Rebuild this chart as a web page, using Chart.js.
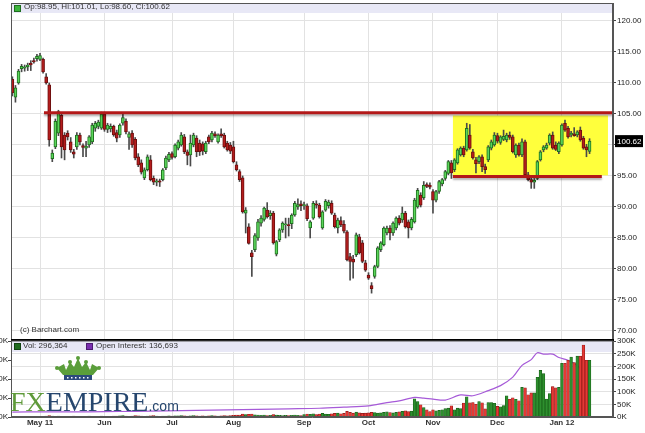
<!DOCTYPE html>
<html>
<head>
<meta charset="utf-8">
<script src="https://cdn.jsdelivr.net/npm/chart.js@4.4.1/dist/chart.umd.min.js"></script>
<style>
	html, body { margin: 0; padding: 0; background: #fff; }
	#wrap { position: relative; width: 645px; height: 433px; overflow: hidden; font-family: "Liberation Sans", Arial, sans-serif; }
	canvas { position: absolute; left: 0; }
	#priceCanvas { top: 0; }
	#volumeCanvas { top: 331px; }
	.txt { position: absolute; white-space: nowrap; color: #333; font-size: 8px; line-height: 10px; }
	.sq { position: absolute; width: 5px; height: 5px; }
	#logo { position: absolute; left: 10px; top: 388px; font-family: "Liberation Serif", "Times New Roman", serif; font-size: 28px; line-height: 28px; white-space: nowrap; }
</style>
</head>
<body>
<div id="wrap">
	<canvas id="priceCanvas" width="645" height="341"></canvas>
	<canvas id="volumeCanvas" width="645" height="102"></canvas>

	<div class="sq" style="left:14px; top:5px; background:#3cb43c; border:1px solid #1e6e1e;"></div>
	<div class="txt" style="left:24px; top:2px;">Op:98.95, Hi:101.01, Lo:98.60, Cl:100.62</div>
	<div class="txt" style="left:20px; top:325px;">(c) Barchart.com</div>
	<div class="sq" style="left:14px; top:343px; background:#1f6b1f; border:1px solid #124212;"></div>
	<div class="txt" style="left:23px; top:341px;">Vol: 296,364</div>
	<div class="sq" style="left:86px; top:343px; background:#7a2fb0; border:1px solid #4c1a70;"></div>
	<div class="txt" style="left:96px; top:341px;">Open Interest: 136,693</div>

	<div id="logo"><span style="color:#5f9a3a">FX</span><span style="color:#26466e">EMPIRE</span><span style="font-family:'Liberation Sans', Arial, sans-serif; font-size:14px; color:#26466e">.com</span></div>
</div>

<script>

/*
 |
 | Daily candles, 18 Apr 2011 to 17 Jan 2012 (one entry per trading day)
 |
 */
const opens = [
	110.6, 107.7, 110.0, 112.3, 112.4, 112.6, 113.2, 113.6, 113.9,
	113.8, 113.8, 111.0, 109.7, 97.8, 99.7, 101.9, 104.8, 101.6, 101.9, 100.5, 98.9, 99.7, 101.6, 99.9, 99.5, 100.0, 100.5, 102.7, 103.0, 102.7,
	105.0, 102.5, 102.6, 103.0, 102.0, 101.6, 103.5, 103.8, 101.2, 101.9, 100.9, 98.1, 97.1, 94.7, 96.0, 97.6, 94.6, 94.0, 94.2, 94.4, 96.3, 97.6,
	98.6, 98.1, 99.5, 100.0, 101.3, 98.9, 98.4, 100.0, 101.1, 100.3, 100.2, 98.9, 101.3, 100.8, 101.8, 100.5, 101.8, 101.6, 100.3, 100.0,
	99.7, 96.8, 95.7, 94.7, 89.0, 86.8, 82.6, 83.1, 85.0, 87.4, 88.0, 89.5, 88.6, 89.0, 82.4, 84.7, 86.3, 87.1, 87.1, 87.3, 88.7, 90.0, 90.5,
	90.2, 90.2, 86.6, 88.2, 90.5, 90.3, 86.6, 89.5, 90.2, 90.6, 88.7, 86.6, 87.8, 87.2, 86.0, 82.0, 81.6, 82.3, 85.2, 84.2, 81.0,
	79.0, 77.3, 78.8, 80.4, 83.1, 83.9, 85.8, 86.6, 85.8, 86.6, 88.2, 87.9, 89.0, 87.6, 86.6, 87.6, 90.0, 91.9, 91.5, 93.6, 93.5,
	92.5, 91.1, 92.5, 93.7, 94.6, 95.4, 97.1, 96.0, 97.1, 98.4, 99.5, 99.2, 101.6, 98.9, 97.6, 97.3, 98.1, 96.5, 97.6, 99.5, 100.0,
	101.5, 100.4, 100.9, 100.8, 101.6, 101.3, 98.4, 100.0, 98.4, 100.5, 95.2, 94.4, 94.0, 94.6, 97.6, 99.2, 99.5, 100.3, 101.6, 100.0, 98.9,
	100.0, 103.5, 102.7, 101.6, 101.8, 101.6, 102.4, 101.1, 99.7, 98.95
]
const highs = [
	111.0, 109.6, 112.2, 113.0, 112.9, 113.2, 113.6, 114.0, 114.6,
	114.8, 114.0, 111.5, 110.0, 99.2, 104.2, 105.6, 105.2, 102.0, 102.3, 101.2, 99.3, 102.0, 101.9, 100.2, 100.6, 101.5, 103.5, 103.8, 104.0, 105.3,
	105.3, 103.5, 103.4, 103.2, 102.4, 103.4, 105.0, 104.2, 102.1, 102.3, 101.2, 98.6, 97.6, 96.3, 98.4, 98.3, 95.0, 94.5, 94.5, 96.2, 98.2, 98.8,
	98.9, 100.2, 100.8, 102.0, 101.7, 99.2, 101.6, 101.9, 101.5, 100.8, 100.5, 100.6, 101.6, 102.2, 102.1, 101.8, 102.6, 101.9, 100.6, 100.4,
	100.6, 97.3, 96.0, 95.0, 89.9, 87.3, 83.0, 85.7, 88.0, 88.6, 90.0, 90.7, 89.4, 89.3, 84.6, 86.5, 87.6, 88.2, 88.2, 88.9, 90.9, 91.3, 91.0,
	90.8, 90.5, 87.8, 90.9, 91.0, 90.6, 89.4, 91.2, 91.1, 91.0, 89.0, 88.2, 88.4, 87.8, 86.2, 82.5, 82.2, 85.8, 85.6, 84.6, 81.4,
	79.4, 77.8, 80.6, 83.6, 84.4, 86.8, 86.9, 87.0, 87.6, 88.4, 88.6, 90.0, 89.3, 87.9, 88.3, 91.4, 93.0, 92.3, 94.1, 93.9, 93.9,
	92.8, 92.7, 94.3, 94.6, 95.9, 97.5, 97.5, 97.8, 99.4, 99.7, 99.8, 103.5, 103.3, 99.3, 98.0, 98.3, 98.4, 96.9, 99.9, 100.8, 102.0,
	101.9, 101.5, 102.4, 101.9, 102.1, 101.6, 100.2, 100.3, 101.0, 100.8, 95.6, 94.8, 94.6, 97.5, 99.1, 99.9, 100.3, 101.8, 102.1, 100.5, 100.5,
	103.4, 104.0, 103.0, 102.2, 102.8, 102.3, 102.9, 101.4, 100.1, 101.01
]
const lows = [
	107.9, 106.9, 109.8, 111.8, 111.9, 112.0, 112.0, 113.2, 113.5,
	113.6, 111.6, 109.8, 99.8, 97.3, 99.4, 101.5, 97.9, 97.6, 100.8, 98.8, 97.9, 99.3, 100.0, 98.1, 98.1, 99.6, 100.2, 102.2, 102.6, 102.5,
	102.2, 102.0, 102.1, 101.4, 100.5, 101.2, 103.2, 101.8, 99.3, 99.6, 97.6, 96.5, 95.3, 94.4, 95.8, 94.2, 93.6, 93.4, 93.3, 94.2, 96.0, 97.3,
	97.7, 97.9, 99.2, 99.8, 98.6, 96.8, 96.6, 99.7, 98.1, 98.3, 98.4, 98.6, 100.2, 100.5, 101.2, 100.3, 101.2, 99.5, 99.0, 98.6,
	97.1, 95.8, 94.1, 89.0, 85.8, 84.0, 78.8, 82.8, 84.6, 86.9, 87.7, 88.2, 88.0, 84.0, 82.1, 84.4, 85.9, 85.0, 85.3, 86.5, 88.5, 89.6, 89.4,
	89.6, 87.8, 85.0, 88.0, 89.8, 88.2, 86.4, 89.3, 89.8, 88.8, 86.6, 85.8, 86.8, 85.8, 81.3, 78.2, 78.5, 82.0, 82.4, 81.0, 79.6,
	78.3, 76.1, 78.5, 80.2, 82.8, 83.7, 85.5, 84.7, 85.4, 86.3, 87.1, 87.5, 86.6, 85.0, 86.3, 87.4, 89.8, 90.0, 91.2, 93.1, 92.9,
	89.0, 90.8, 92.2, 93.4, 94.3, 95.2, 94.6, 95.7, 96.9, 98.2, 98.1, 99.0, 99.3, 97.7, 95.5, 97.0, 95.7, 95.4, 97.3, 99.2, 99.8,
	100.3, 100.1, 100.7, 100.5, 100.9, 98.7, 98.0, 98.2, 98.1, 95.0, 94.2, 93.0, 93.0, 94.4, 97.4, 98.9, 99.3, 100.0, 99.3, 99.1, 98.6,
	99.8, 102.2, 101.1, 101.3, 101.4, 101.3, 100.6, 99.3, 98.1, 98.60
]
const closes = [
	108.4, 109.2, 111.9, 112.7, 112.6, 112.9, 112.9, 113.4, 114.3,
	114.4, 111.8, 110.0, 100.8, 98.7, 103.8, 105.4, 99.7, 99.2, 101.3, 99.2, 98.5, 101.6, 100.5, 99.6, 99.8, 101.3, 103.2, 103.5, 103.7, 105.0,
	102.5, 103.2, 103.0, 101.6, 101.1, 103.2, 104.4, 102.1, 101.8, 100.0, 97.9, 96.8, 95.6, 96.0, 98.1, 94.4, 94.0, 94.2, 94.0, 96.0, 97.9, 98.5,
	98.0, 100.0, 100.5, 101.6, 98.9, 98.3, 100.3, 101.6, 98.9, 98.9, 99.0, 100.3, 100.5, 101.9, 101.5, 101.6, 101.5, 99.7, 99.2, 99.0,
	97.3, 96.0, 94.4, 89.2, 89.5, 84.1, 82.0, 85.4, 87.6, 88.2, 89.8, 88.4, 89.0, 84.2, 84.4, 86.3, 87.4, 87.1, 87.0, 88.7, 90.6, 90.4, 90.2,
	90.4, 88.1, 87.6, 90.6, 90.3, 88.4, 89.2, 90.9, 90.8, 89.0, 86.8, 87.9, 87.1, 86.1, 81.5, 81.2, 81.1, 85.5, 82.6, 81.2, 79.8,
	78.5, 76.8, 80.4, 83.4, 84.2, 86.6, 86.6, 85.8, 87.4, 88.2, 87.4, 89.0, 86.8, 86.6, 88.0, 91.1, 92.7, 90.3, 93.5, 93.3, 93.2,
	91.1, 92.5, 94.1, 94.4, 95.7, 97.3, 95.5, 97.6, 99.2, 99.5, 98.4, 102.7, 99.5, 97.9, 97.0, 98.1, 96.5, 96.0, 99.7, 100.5, 101.6,
	100.6, 101.3, 101.4, 101.6, 101.2, 98.9, 100.0, 98.4, 100.5, 95.2, 94.4, 94.0, 94.3, 97.3, 98.9, 99.7, 100.0, 101.6, 99.5, 99.3, 100.3,
	103.2, 102.4, 101.3, 101.9, 101.5, 102.1, 100.8, 99.5, 99.2, 100.62
]

// Volume in thousands, same days as the candles
const volumes = [
	1, 1, 2, 1, 1, 2, 1, 2, 2,
	3, 3, 4, 6, 4, 3, 4, 3, 3, 2, 3, 4, 3, 3, 2, 3, 4, 3, 3, 2, 4,
	3, 3, 3, 4, 4, 5, 6, 4, 3, 4, 6, 5, 4, 3, 4, 5, 6, 4, 3, 4, 4, 5,
	4, 5, 5, 6, 5, 4, 5, 6, 5, 4, 5, 4, 5, 6, 5, 4, 5, 6, 5, 6,
	7, 8, 8, 12, 10, 11, 12, 9, 8, 7, 8, 6, 7, 10, 8, 7, 6, 7, 6, 7, 8, 7, 6,
	10, 12, 11, 13, 10, 12, 14, 12, 11, 13, 14, 15, 13, 14, 22, 18, 15, 19, 16, 14, 15,
	16, 18, 17, 15, 16, 18, 20, 17, 16, 18, 20, 22, 24, 21, 23, 72, 61, 48, 37, 28, 21,
	28, 24, 26, 28, 33, 35, 44, 28, 35, 33, 55, 80, 56, 57, 50, 61, 56, 32, 57, 57, 54,
	42, 40, 45, 84, 70, 76, 70, 64, 117, 115, 88, 95, 95, 157, 184, 171, 71, 92, 120, 115, 117,
	212, 212, 224, 237, 215, 240, 240, 284, 224, 224
]

// Open interest (thousands) at these candle positions
const oiIndex = [ 0, 10, 20, 30, 40, 50, 60, 70, 80, 90, 100, 108, 116, 122, 126, 131, 134, 137, 141, 146, 150, 155, 159, 163, 166, 169, 171, 173, 176, 178, 181, 183, 185, 187, 188 ]
const oiValues = [ 26, 27, 27, 28, 30, 32, 35, 37, 40, 43, 46, 52, 59, 76, 85, 103, 99, 94, 89, 116, 112, 139, 165, 210, 272, 302, 338, 331, 331, 313, 299, 281, 254, 210, 195 ]

// First trading day of each month and its axis label
const monthIndex = [ 9, 30, 52, 72, 95, 116, 137, 158, 179 ]
const monthLabels = [ "May 11", "Jun", "Jul", "Aug", "Sep", "Oct", "Nov", "Dec", "Jan 12" ]

const priceTicks = [ 70, 75, 80, 85, 90, 95, 100, 105, 110, 115, 120 ]
const volumeTicks = [ 0, 50, 100, 150, 200, 250, 300 ]
const oiTicks = [ 0, 100, 200, 300, 400 ]

// Hand drawn study: resistance / support levels and the range box (price, candle span)
const levelPrices = [ 105.2, 94.9 ]
const levelFrom = [ 10.3, 143.5 ]
const levelTo = [ 195.6, 192 ]
const boxSpan = [ 143.5, 194 ]
const boxPrices = [ 95.1, 104.75 ]


/*
 |
 | Shared look
 |
 */
Chart.defaults.font.family = "'Liberation Sans', Arial, sans-serif"
Chart.defaults.font.size = 8
Chart.defaults.color = "#333"

const xMin = -0.45
const xMax = 195.64
const gridColor = "#e2e2e2"
const frameColor = "#555"
const lastClose = closes[ closes.length - 1 ]

const candleIndex = closes.map( ( c, i ) => i )
const isUp = closes.map( ( c, i ) => c >= opens[ i ] )


/*
 |
 | Price panel
 |
 */
const pricePanelDecor = {
	id: "pricePanelDecor",
	beforeDatasetsDraw ( chart ) {
		let { ctx, chartArea: area, scales: { x, y } } = chart
		ctx.save()
		// legend strip
		ctx.fillStyle = "#e8e8f6"
		ctx.fillRect( area.left, area.top, area.right - area.left, 10 )
		// highlighted trading range
		let bx1 = x.getPixelForValue( boxSpan[ 0 ] )
		let bx2 = x.getPixelForValue( boxSpan[ 1 ] )
		let by1 = y.getPixelForValue( boxPrices[ 1 ] )
		let by2 = y.getPixelForValue( boxPrices[ 0 ] )
		ctx.fillStyle = "#ffff3c"
		ctx.fillRect( bx1, by1, bx2 - bx1, by2 - by1 )
		ctx.restore()
	},
	afterDatasetsDraw ( chart ) {
		let { ctx, scales: { x, y } } = chart
		ctx.save()
		ctx.shadowColor = "rgba( 0, 0, 0, 0.3 )"
		ctx.shadowOffsetY = 2
		ctx.shadowBlur = 2
		ctx.strokeStyle = "#b31919"
		ctx.lineWidth = 3
		levelPrices.forEach( function ( p, i ) {
			let py = y.getPixelForValue( p )
			ctx.beginPath()
			ctx.moveTo( x.getPixelForValue( levelFrom[ i ] ), py )
			ctx.lineTo( x.getPixelForValue( levelTo[ i ] ), py )
			ctx.stroke()
		} )
		ctx.restore()
	},
	afterDraw ( chart ) {
		let { ctx, chartArea: area, scales: { y } } = chart
		ctx.save()
		ctx.strokeStyle = frameColor
		ctx.lineWidth = 1
		ctx.strokeRect( area.left + 0.5, area.top + 0.5, area.right - area.left - 1, area.bottom - area.top )
		// heavy separator above the volume panel
		ctx.fillStyle = "#000"
		ctx.fillRect( area.left, 339, area.right - area.left + 1, 2 )
		// last price tag
		let py = y.getPixelForValue( lastClose )
		ctx.fillStyle = "#000"
		ctx.fillRect( area.right + 2, py - 6, 28, 12 )
		ctx.fillStyle = "#fff"
		ctx.font = "8px 'Liberation Sans', Arial, sans-serif"
		ctx.textBaseline = "middle"
		ctx.fillText( lastClose.toFixed( 2 ), area.right + 4, py + 0.5 )
		ctx.restore()
	}
}

new Chart( document.getElementById( "priceCanvas" ), {
	type: "bar",
	data: {
		datasets: [
			{
				label: "range",
				data: candleIndex.map( i => ( { x: i, y: [ lows[ i ], highs[ i ] ] } ) ),
				backgroundColor: "#4a4a4a",
				barThickness: 1,
				grouped: false,
				order: 2
			},
			{
				label: "body",
				data: candleIndex.map( i => ( { x: i, y: [ opens[ i ], closes[ i ] ] } ) ),
				backgroundColor: isUp.map( u => u ? "#5ad65a" : "#b41d1d" ),
				borderColor: isUp.map( u => u ? "#1f6f1f" : "#6e0f0f" ),
				borderWidth: 1,
				borderSkipped: false,
				barThickness: 3,
				minBarLength: 1,
				grouped: false,
				order: 1
			}
		]
	},
	options: {
		responsive: false,
		animation: false,
		devicePixelRatio: 1,
		layout: { padding: { left: 11, top: 3, right: 0, bottom: 2 } },
		scales: {
			x: {
				type: "linear",
				min: xMin,
				max: xMax,
				offset: false,
				grid: { color: gridColor, offset: false, drawTicks: false },
				border: { display: false },
				ticks: { display: false },
				afterBuildTicks: s => { s.ticks = monthIndex.map( v => ( { value: v } ) ) },
				afterFit: s => { s.height = 0; s.paddingLeft = 0; s.paddingRight = 0 }
			},
			y: {
				position: "right",
				min: 68.7,
				max: 122.9,
				grid: { color: gridColor, tickColor: "#444", tickLength: 3 },
				border: { color: frameColor },
				ticks: {
					color: "#222",
					padding: 1,
					callback: v => Math.abs( v - lastClose ) < 1.5 ? "" : v.toFixed( 2 )
				},
				afterBuildTicks: s => { s.ticks = priceTicks.map( v => ( { value: v } ) ) },
				afterFit: s => { s.width = 32; s.paddingTop = 0; s.paddingBottom = 0 }
			}
		},
		plugins: { legend: { display: false }, tooltip: { enabled: false } }
	},
	plugins: [ pricePanelDecor ]
} )


/*
 |
 | Volume / open interest panel
 |
 */
function drawCrown ( ctx, cx, top ) {
	let pts = [ [ -21, 9 ], [ -14, 5 ], [ -12, 11 ], [ -8, 3 ], [ -4, 8 ], [ 0, -1 ], [ 4, 8 ], [ 8, 3 ], [ 12, 11 ], [ 14, 5 ], [ 21, 9 ], [ 15, 16 ], [ -15, 16 ] ]
	ctx.fillStyle = "#5a9e3a"
	ctx.beginPath()
	pts.forEach( ( p, i ) => i ? ctx.lineTo( cx + p[ 0 ], top + p[ 1 ] ) : ctx.moveTo( cx + p[ 0 ], top + p[ 1 ] ) )
	ctx.closePath()
	ctx.fill()
	;[ [ -21, 9 ], [ -8, 3 ], [ 0, -1 ], [ 8, 3 ], [ 21, 9 ] ].forEach( function ( p ) {
		ctx.beginPath()
		ctx.arc( cx + p[ 0 ], top + p[ 1 ], 2, 0, Math.PI * 2 )
		ctx.fill()
	} )
	ctx.fillStyle = "#2c4a7c"
	ctx.fillRect( cx - 14, top + 16, 28, 5 )
	ctx.fillStyle = "#fff"
	for ( let d = -11; d <= 11; d += 4 )
		ctx.fillRect( cx + d, top + 18, 1.5, 1.5 )
}

const volumePanelDecor = {
	id: "volumePanelDecor",
	beforeDatasetsDraw ( chart ) {
		let { ctx, chartArea: area } = chart
		ctx.save()
		ctx.fillStyle = "#e8e8f6"
		ctx.fillRect( area.left, area.top, area.right - area.left, 11 )
		ctx.restore()
	},
	afterDraw ( chart ) {
		let { ctx, chartArea: area } = chart
		ctx.save()
		ctx.strokeStyle = frameColor
		ctx.lineWidth = 1
		ctx.strokeRect( area.left + 0.5, area.top, area.right - area.left - 1, area.bottom - area.top - 0.5 )
		drawCrown( ctx, 78, 28 )
		ctx.restore()
	}
}

new Chart( document.getElementById( "volumeCanvas" ), {
	type: "bar",
	data: {
		datasets: [
			{
				type: "line",
				label: "Open Interest",
				data: oiIndex.map( ( v, i ) => ( { x: v, y: oiValues[ i ] } ) ),
				yAxisID: "oi",
				borderColor: "#a65ad8",
				borderWidth: 1.2,
				pointRadius: 0,
				tension: 0.3,
				order: 2
			},
			{
				label: "Vol",
				data: candleIndex.map( i => ( { x: i, y: volumes[ i ] } ) ),
				yAxisID: "y",
				backgroundColor: isUp.map( u => u ? "#2e8f2e" : "#e53935" ),
				borderColor: isUp.map( u => u ? "#175c17" : "#8a1616" ),
				borderWidth: 0.6,
				borderSkipped: false,
				barThickness: 2.7,
				order: 1
			}
		]
	},
	options: {
		responsive: false,
		animation: false,
		devicePixelRatio: 1,
		layout: { padding: { left: 0, top: 10, right: 0, bottom: 0 } },
		scales: {
			x: {
				type: "linear",
				min: xMin,
				max: xMax,
				offset: false,
				grid: { color: gridColor, offset: false, drawTicks: false },
				border: { color: frameColor },
				ticks: {
					font: { size: 8, weight: "bold" },
					color: "#333",
					padding: 1,
					maxRotation: 0,
					autoSkip: false,
					callback: v => monthLabels[ monthIndex.indexOf( v ) ]
				},
				afterBuildTicks: s => { s.ticks = monthIndex.map( v => ( { value: v } ) ) },
				afterFit: s => { s.height = 16; s.paddingLeft = 0; s.paddingRight = 0 }
			},
			y: {
				position: "right",
				min: 0,
				max: 300,
				grid: { color: gridColor, tickColor: "#444", tickLength: 3 },
				border: { color: frameColor },
				ticks: { color: "#222", padding: 1, callback: v => v + "K" },
				afterBuildTicks: s => { s.ticks = volumeTicks.map( v => ( { value: v } ) ) },
				afterFit: s => { s.width = 32; s.paddingTop = 0; s.paddingBottom = 0 }
			},
			oi: {
				position: "left",
				min: 0,
				max: 400,
				grid: { drawOnChartArea: false, tickColor: "#444", tickLength: 3 },
				border: { color: frameColor },
				ticks: { color: "#222", padding: 0, callback: v => v + "K" },
				afterBuildTicks: s => { s.ticks = oiTicks.map( v => ( { value: v } ) ) },
				afterFit: s => { s.width = 11; s.paddingTop = 0; s.paddingBottom = 0 }
			}
		},
		plugins: { legend: { display: false }, tooltip: { enabled: false } }
	},
	plugins: [ volumePanelDecor ]
} )

</script>
</body>
</html>
